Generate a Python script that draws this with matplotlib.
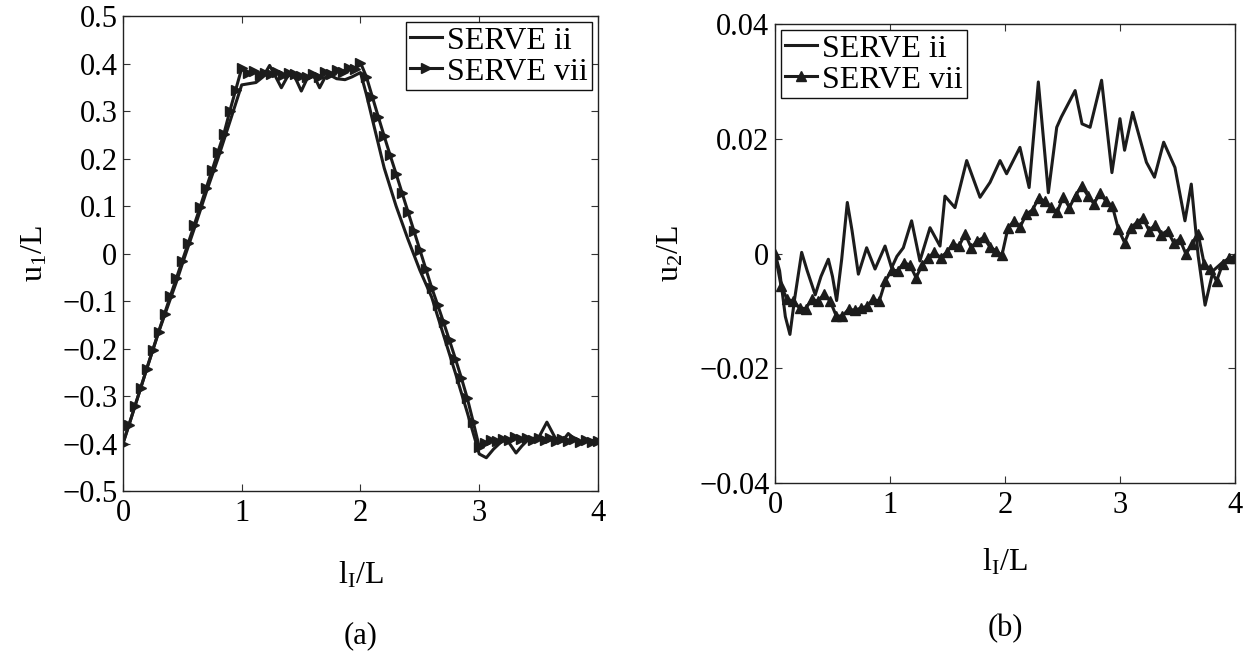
import numpy as np
import matplotlib
matplotlib.use('Agg')
from matplotlib import pyplot as plt

# global style
plt.rcParams['font.family'] = ['Liberation Serif', 'DejaVu Serif']
plt.rcParams['mathtext.fontset'] = 'custom'
plt.rcParams['mathtext.rm'] = 'Liberation Serif'
plt.rcParams['mathtext.it'] = 'Liberation Serif:italic'
plt.rcParams['font.size'] = 22
line_color = '#1c1c1c'

# (a) horizontal displacement u1/L along the path
u1_vii = [-0.400, -0.362, -0.322, -0.283, -0.243, -0.204, -0.165, -0.127, -0.089, -0.052,
          -0.015, 0.022, 0.060, 0.098, 0.137, 0.175, 0.214, 0.252, 0.300, 0.345,
          0.390, 0.380, 0.385, 0.376, 0.381, 0.377, 0.383, 0.376, 0.380, 0.377,
          0.374, 0.371, 0.378, 0.372, 0.382, 0.378, 0.387, 0.383, 0.391, 0.388,
          0.402, 0.372, 0.330, 0.288, 0.247, 0.207, 0.168, 0.128, 0.088, 0.048,
          0.008, -0.032, -0.072, -0.108, -0.145, -0.183, -0.222, -0.262, -0.305, -0.355,
          -0.407, -0.398, -0.393, -0.395, -0.390, -0.392, -0.387, -0.391, -0.388, -0.392,
          -0.389, -0.393, -0.389, -0.394, -0.390, -0.395, -0.391, -0.396, -0.392, -0.396,
          -0.394]
u1_ii_x = [0.00, 0.10, 0.20, 0.30, 0.40, 0.45, 0.50, 0.60, 0.70, 0.80, 0.90, 1.00,
           1.12, 1.18, 1.235, 1.28, 1.334, 1.38, 1.418, 1.46, 1.502, 1.545, 1.586, 1.62,
           1.656, 1.70, 1.74, 1.80, 1.87, 1.93, 2.00, 2.05, 2.10, 2.20, 2.30, 2.40,
           2.50, 2.60, 2.70, 2.80, 2.90, 3.00, 3.06, 3.12, 3.20, 3.25, 3.31, 3.36,
           3.42, 3.50, 3.57, 3.64, 3.70, 3.75, 3.80, 3.84, 3.90, 4.00]
u1_ii_y = [-0.400, -0.322, -0.243, -0.166, -0.095, -0.060, -0.022, 0.052, 0.128, 0.200, 0.277, 0.355,
           0.360, 0.372, 0.396, 0.375, 0.349, 0.370, 0.381, 0.365, 0.342, 0.365, 0.378, 0.368,
           0.349, 0.370, 0.376, 0.368, 0.366, 0.372, 0.381, 0.335, 0.283, 0.180, 0.100, 0.030,
           -0.035, -0.092, -0.172, -0.252, -0.335, -0.422, -0.430, -0.412, -0.393, -0.398, -0.420, -0.405,
           -0.390, -0.388, -0.355, -0.388, -0.395, -0.379, -0.390, -0.400, -0.392, -0.395]

# (b) vertical displacement u2/L along the path
u2_vii = [0.0, -0.0057, -0.0080, -0.0083, -0.0095, -0.0096, -0.0080, -0.0083, -0.0071, -0.0083,
          -0.0109, -0.0109, -0.0097, -0.0099, -0.0095, -0.0092, -0.0080, -0.0083, -0.0048, -0.0029,
          -0.0030, -0.0016, -0.0020, -0.0042, -0.0020, -0.0007, 0.0002, -0.0007, 0.0002, 0.0017,
          0.0013, 0.0034, 0.0010, 0.0022, 0.0028, 0.0012, 0.0005, -0.0003, 0.0045, 0.0057,
          0.0047, 0.0069, 0.0076, 0.0097, 0.0091, 0.0081, 0.0072, 0.0099, 0.0080, 0.0101,
          0.0118, 0.0101, 0.0087, 0.0105, 0.0091, 0.0083, 0.0042, 0.0019, 0.0045, 0.0054,
          0.0062, 0.0040, 0.0050, 0.0033, 0.0040, 0.0019, 0.0025, -0.0001, 0.0016, 0.0034,
          -0.0019, -0.0027, -0.0048, -0.0018, -0.0008, -0.0008]
u2_ii_x = [0.00, 0.04, 0.09, 0.13, 0.17, 0.232, 0.28, 0.35, 0.40, 0.464, 0.50, 0.536,
           0.58, 0.629, 0.67, 0.725, 0.797, 0.87, 0.957, 1.014, 1.06, 1.116, 1.188, 1.26,
           1.348, 1.435, 1.478, 1.565, 1.667, 1.783, 1.87, 1.957, 2.014, 2.13, 2.21, 2.29,
           2.377, 2.45, 2.49, 2.61, 2.67, 2.74, 2.84, 2.93, 3.00, 3.04, 3.11, 3.23,
           3.30, 3.38, 3.478, 3.565, 3.62, 3.68, 3.74, 3.81, 3.90, 4.00]
u2_ii_y = [0.0, -0.0030, -0.0110, -0.0141, -0.0080, 0.0002, -0.0030, -0.0072, -0.0040, -0.0010, -0.0040, -0.0082,
           -0.0010, 0.0089, 0.0040, -0.0036, 0.0010, -0.0027, 0.0013, -0.0025, -0.0005, 0.0010, 0.0057, -0.0013,
           0.0045, 0.0013, 0.0100, 0.0080, 0.0162, 0.0098, 0.0124, 0.0162, 0.0139, 0.0185, 0.0115, 0.0299,
           0.0106, 0.0220, 0.0238, 0.0284, 0.0226, 0.0220, 0.0302, 0.0141, 0.0235, 0.0180, 0.0246, 0.0159,
           0.0133, 0.0194, 0.0150, 0.0057, 0.0121, -0.0004, -0.0090, -0.0030, -0.0014, -0.0004]

x_ticks = [0, 1, 2, 3, 4]
u1_ticks = [-0.5, -0.4, -0.3, -0.2, -0.1, 0, 0.1, 0.2, 0.3, 0.4, 0.5]
u1_tick_labels = ['\u22120.5', '\u22120.4', '\u22120.3', '\u22120.2', '\u22120.1', '0',
                  '0.1', '0.2', '0.3', '0.4', '0.5']
u2_ticks = [-0.04, -0.02, 0, 0.02, 0.04]
u2_tick_labels = ['\u22120.04', '\u22120.02', '0', '0.02', '0.04']
series_names = ['SERVE ii', 'SERVE vii']

u1_x = np.linspace(0, 4, len(u1_vii))
u2_x = np.linspace(0, 4, len(u2_vii))

def style_axes(ax):
    ax.set_xlim(0, 4)
    ax.set_xticks(x_ticks)
    ax.tick_params(direction='in', top=True, right=True, length=5, width=0.8,
                   color='#333333', labelsize=22)
    ax.tick_params(axis='x', pad=6)
    ax.tick_params(axis='y', pad=4)
    for s in ax.spines.values():
        s.set_linewidth(1.0)
        s.set_color('#222222')

def make_legend(ax, loc):
    leg = ax.legend(loc=loc, fontsize=23, frameon=True, fancybox=False, framealpha=1,
                    edgecolor='#111111', handlelength=1.0, handletextpad=0.15,
                    borderpad=0.12, labelspacing=0.05, borderaxespad=0.2, numpoints=1)
    leg.get_frame().set_linewidth(1.0)
    return leg

fig = plt.figure(figsize=(12.52, 6.62), dpi=100)

# panel (a)
ax1 = fig.add_axes([0.0982, 0.2583, 0.3794, 0.7175])
ax1.plot(u1_ii_x, u1_ii_y, '-', color=line_color, lw=2.2, label=series_names[0])
ax1.plot(u1_x, u1_vii, '-', color=line_color, lw=2.2, marker='>', ms=6.5,
         label=series_names[1])
style_axes(ax1)
ax1.set_ylim(-0.5, 0.5)
ax1.set_yticks(u1_ticks)
ax1.set_yticklabels(u1_tick_labels)
ax1.set_xlabel(r'l$_\mathrm{I}$/L', fontsize=23)
ax1.xaxis.set_label_coords(0.5, -0.145)
ax1.set_ylabel(r'u$_1$/L', fontsize=23)
ax1.yaxis.set_label_coords(-0.155, 0.5)
make_legend(ax1, 'upper right')
fig.text(0.2880, 0.04, '(a)', ha='center', va='center', fontsize=22)

# panel (b)
ax2 = fig.add_axes([0.6190, 0.2704, 0.3674, 0.6933])
ax2.plot(u2_ii_x, u2_ii_y, '-', color=line_color, lw=2.2, label=series_names[0])
ax2.plot(u2_x, u2_vii, '-', color=line_color, lw=2.2, marker='^', ms=7,
         label=series_names[1])
style_axes(ax2)
ax2.set_ylim(-0.04, 0.04)
ax2.set_yticks(u2_ticks)
ax2.set_yticklabels(u2_tick_labels)
ax2.set_xlabel(r'l$_\mathrm{I}$/L', fontsize=23)
ax2.xaxis.set_label_coords(0.5, -0.14)
ax2.set_ylabel(r'u$_2$/L', fontsize=23)
ax2.yaxis.set_label_coords(-0.195, 0.5)
make_legend(ax2, 'upper left')
fig.text(0.8027, 0.05, '(b)', ha='center', va='center', fontsize=22)

fig.savefig('out.png', dpi=100)
